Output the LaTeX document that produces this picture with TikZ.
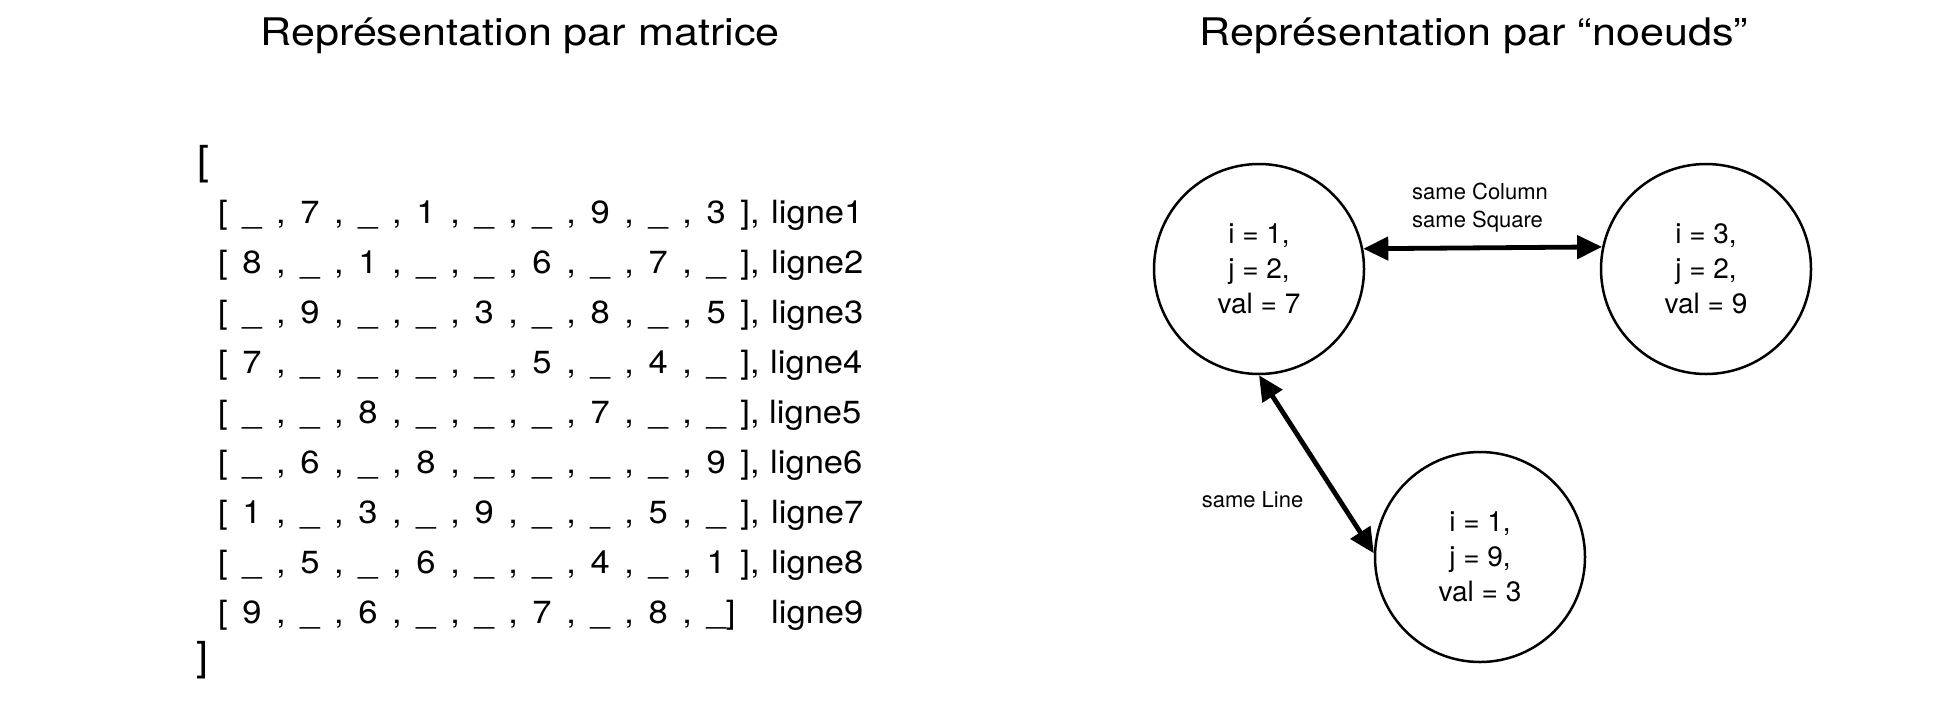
\documentclass[tikz,border=0pt]{standalone}
\usepackage{fontspec}
\setmainfont{TeX Gyre Heros}
\newfontfamily\titlefont[FakeStretch=1.135]{TeX Gyre Heros}
\newfontfamily\matfont[FakeStretch=1.08]{TeX Gyre Heros}
\usetikzlibrary{arrows.meta}
\newcommand\matsize{\fontsize{32}{38}\selectfont\spaceskip=14.6pt\relax}
\begin{document}
\begin{tikzpicture}[x=1pt,y=-1pt,
  ttl/.style={font=\titlefont\fontsize{38}{46}\selectfont, anchor=base, inner sep=0pt},
  matrow/.style={font=\matfont\matsize, anchor=base west, inner sep=0pt},
  lignelbl/.style={font=\matfont\matsize, anchor=base west, inner sep=0pt},
  outerbr/.style={font=\matfont\fontsize{40}{48}\selectfont, anchor=base west, inner sep=0pt},
  state/.style={circle, draw, line width=2.5pt, minimum size=210pt, inner sep=0pt, align=center, font=\fontsize{28}{35}\selectfont},
  rel/.style={line width=4.8pt, {Triangle[length=25pt,width=23pt]}-{Triangle[length=25pt,width=23pt]}},
  edgelbl/.style={font=\fontsize{22}{27.5}\selectfont, inner sep=0pt}]
\useasboundingbox (0,0) rectangle (1942,710);
% titles
\node[ttl] (t1) at (520,45) {Représentation par matrice};
\node[ttl] (t2) at (1474,45) {Représentation par “noeuds”};
% matrix
\node[outerbr] (ob) at (197,174) {[};
\node[matrow] (r1) at (218,223) {[ \_ , 7 , \_ , 1 , \_ , \_ , 9 , \_ , 3 ],};
\node[matrow] (r2) at (218,273) {[ 8 , \_ , 1 , \_ , \_ , 6 , \_ , 7 , \_ ],};
\node[matrow] (r3) at (218,323) {[ \_ , 9 , \_ , \_ , 3 , \_ , 8 , \_ , 5 ],};
\node[matrow] (r4) at (218,373) {[ 7 , \_ , \_ , \_ , \_ , 5 , \_ , 4 , \_ ],};
\node[matrow] (r5) at (218,423) {[ \_ , \_ , 8 , \_ , \_ , \_ , 7 , \_ , \_ ],};
\node[matrow] (r6) at (218,473) {[ \_ , 6 , \_ , 8 , \_ , \_ , \_ , \_ , 9 ],};
\node[matrow] (r7) at (218,523) {[ 1 , \_ , 3 , \_ , 9 , \_ , \_ , 5 , \_ ],};
\node[matrow] (r8) at (218,573) {[ \_ , 5 , \_ , 6 , \_ , \_ , 4 , \_ , 1 ],};
\node[matrow] (r9) at (218,623) {[ 9 , \_ , 6 , \_ , \_ , 7 , \_ , 8 , \_]};
\node[outerbr] (cb) at (196,670) {]};
\node[lignelbl] (l1) at (771,223) {ligne1};
\node[lignelbl] (l2) at (771,273) {ligne2};
\node[lignelbl] (l3) at (771,323) {ligne3};
\node[lignelbl] (l4) at (770,373) {ligne4};
\node[lignelbl] (l5) at (769,423) {ligne5};
\node[lignelbl] (l6) at (770,473) {ligne6};
\node[lignelbl] (l7) at (771,523) {ligne7};
\node[lignelbl] (l8) at (771,573) {ligne8};
\node[lignelbl] (l9) at (771,623) {ligne9};
% nodes
\node[state] (c1) at (1259,269) {i = 1,\\ j = 2,\\ val = 7};
\node[state] (c2) at (1706,269) {i = 3,\\ j = 2,\\ val = 9};
\node[state] (c3) at (1480,557) {i = 1,\\ j = 9,\\ val = 3};
\draw[rel] (c1.11.5) -- (c2.168.5);
\draw[rel] (c1.south) -- (c3.178);
\node[edgelbl, align=left, anchor=north west] (lcol) at (1412,183) {same Column\\same Square};
\node[edgelbl, anchor=base] (lline) at (1252.5,507) {same Line};
\end{tikzpicture}
\end{document}
